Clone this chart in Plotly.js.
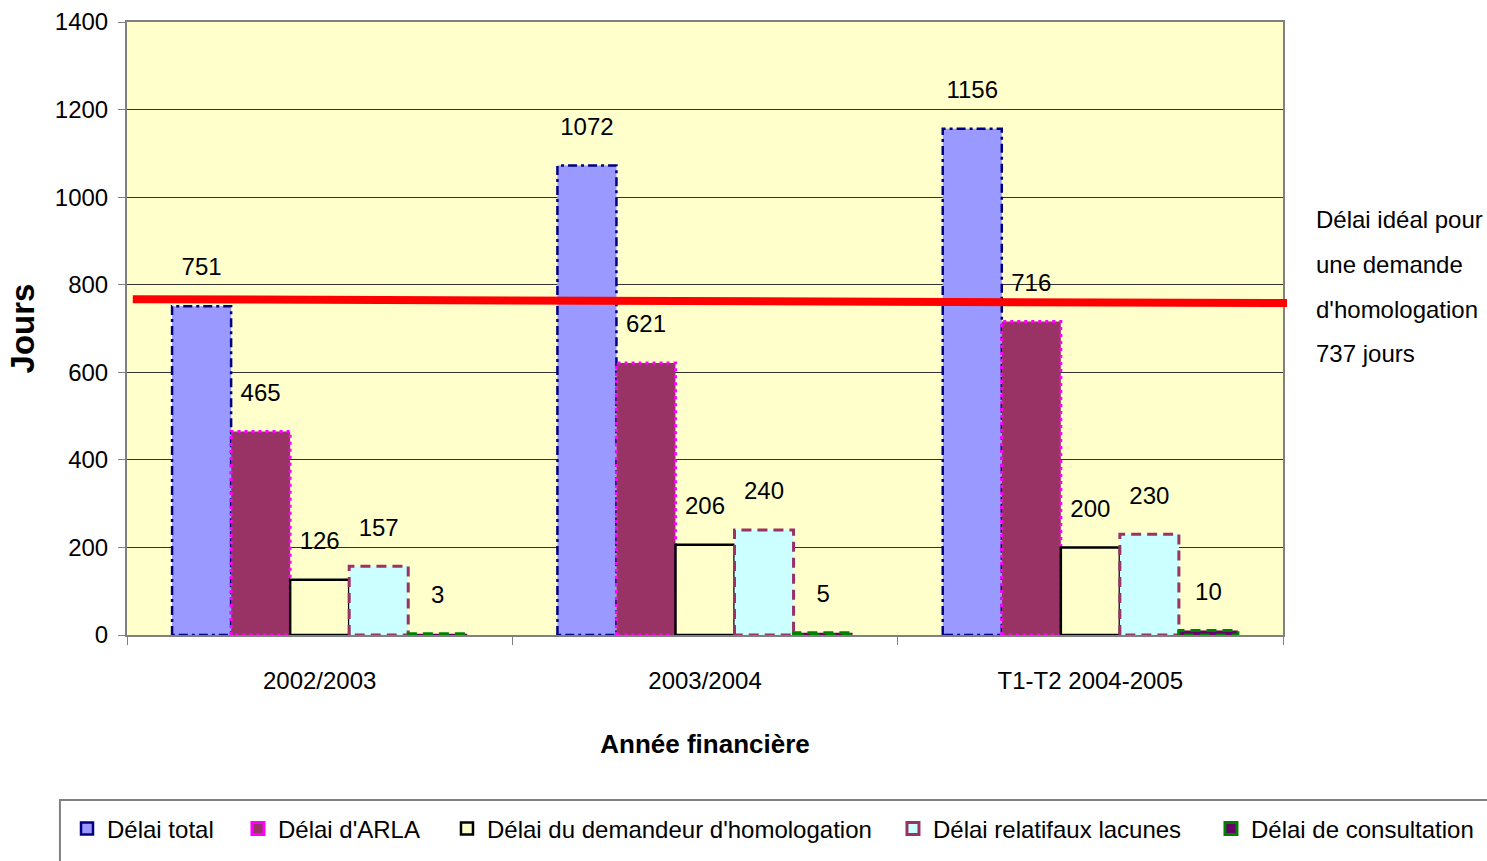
<!DOCTYPE html>
<html>
<head>
<meta charset="utf-8">
<script src="https://cdn.plot.ly/plotly-3.0.1.min.js"></script>
<style>
  html, body { margin: 0; padding: 0; background: #ffffff; }
  #chart { width: 1487px; height: 861px; }
  .barlayer .trace:nth-of-type(1) path { stroke-dasharray: 9 4 3 4; }
  .barlayer .trace:nth-of-type(2) path { stroke-dasharray: 3 4; }
  .barlayer .trace:nth-of-type(4) path { stroke-dasharray: 10 6; }
  .barlayer .trace:nth-of-type(5) path { stroke-dasharray: 10 6; }
</style>
</head>
<body>
<div id="chart"></div>
<script>
// ---- data ----
const categories = ['2002/2003', '2003/2004', 'T1-T2 2004-2005'];
const seriesNames = ['Délai total', "Délai d'ARLA", "Délai du demandeur d'homologation", 'Délai relatifaux lacunes', 'Délai de consultation'];
const delaiTotal = [751, 1072, 1156];
const delaiARLA = [465, 621, 716];
const delaiDemandeur = [126, 206, 200];
const delaiLacunes = [157, 240, 230];
const delaiConsultation = [3, 5, 10];
const yTickValues = [0, 200, 400, 600, 800, 1000, 1200, 1400];
const idealNoteLines = ['Délai idéal pour', 'une demande', "d'homologation", '737 jours'];
const idealLineLevel = [767, 758]; // red reference line as drawn (left, right)

// ---- styles ----
const SANS = "'Liberation Sans', Arial, sans-serif";
const FS = 24;
const fillColors = ['#9999FF', '#993366', '#FFFFCC', '#CCFFFF', '#660066'];
const lineColors = ['#000080', '#FF00FF', '#000000', '#993366', '#008000'];
const lineWidths = [2.5, 3, 2.5, 3, 3];
const seriesValues = [delaiTotal, delaiARLA, delaiDemandeur, delaiLacunes, delaiConsultation];
const legendIds = ['legend', 'legend2', 'legend3', 'legend4', 'legend5'];
const legendX = [-0.0519, 0.0960, 0.2768, 0.6626, 0.9377];
const GAP = 0.234;

const traces = [];
seriesValues.forEach((vals, i) => {
  traces.push({
    type: 'bar',
    name: seriesNames[i],
    x: categories,
    y: vals,
    offsetgroup: String(i),
    legend: legendIds[i],
    marker: { color: fillColors[i], line: { color: lineColors[i], width: lineWidths[i] } },
    hoverinfo: 'skip'
  });
});
seriesValues.forEach((vals, i) => {
  traces.push({
    type: 'scatter',
    mode: 'markers+text',
    x: categories,
    y: vals,
    text: vals.map(String),
    textposition: 'top center',
    textfont: { family: SANS, size: FS, color: '#000000' },
    marker: { size: 38, color: 'rgba(0,0,0,0)' },
    offsetgroup: String(i),
    showlegend: false,
    cliponaxis: false,
    hoverinfo: 'skip'
  });
});

const annotations = idealNoteLines.map((t, k) => ({
  text: t,
  xref: 'paper', yref: 'paper',
  x: 1.0268, y: 0.677 - k * 0.0726,
  xanchor: 'left', yanchor: 'middle',
  showarrow: false,
  font: { family: SANS, size: FS, color: '#000000' }
}));

const layout = {
  width: 1487, height: 861,
  margin: { l: 127, r: 204, t: 22, b: 226, autoexpand: false },
  paper_bgcolor: '#ffffff',
  plot_bgcolor: '#FFFFCC',
  barmode: 'group',
  bargap: GAP,
  bargroupgap: 0,
  scattermode: 'group',
  scattergap: GAP,
  showlegend: true,
  font: { family: SANS, size: FS, color: '#000000' },
  xaxis: {
    type: 'category',
    showline: true, linecolor: '#808080', linewidth: 2, mirror: true,
    ticks: 'outside', tickson: 'boundaries', ticklen: 8, tickcolor: '#808080',
    tickfont: { family: SANS, size: FS, color: '#000000' },
    ticklabelstandoff: 23,
    showgrid: false,
    title: { text: 'Année financière', font: { family: SANS, size: 26, color: '#000000', weight: 'bold' }, standoff: 42 },
    automargin: false
  },
  yaxis: {
    range: [0, 1400],
    tickvals: yTickValues,
    ticktext: yTickValues.map(String),
    showline: true, linecolor: '#808080', linewidth: 2, mirror: true,
    ticks: 'outside', ticklen: 7, tickcolor: '#808080',
    tickfont: { family: SANS, size: FS, color: '#000000' },
    ticklabelstandoff: 5,
    showgrid: true, gridcolor: '#333333', gridwidth: 1,
    zeroline: false,
    title: { text: 'Jours', font: { family: SANS, size: 33, color: '#000000', weight: 'bold' }, standoff: 10 },
    automargin: false
  },
  shapes: [
    {
      type: 'line', xref: 'paper', yref: 'y',
      x0: 0.005, x1: 1.0035,
      y0: idealLineLevel[0], y1: idealLineLevel[1],
      line: { color: '#FF0000', width: 8 },
      layer: 'above'
    },
    {
      type: 'rect', xref: 'paper', yref: 'paper',
      x0: -0.058, x1: 1.2, y0: -0.2692, y1: -0.40,
      line: { color: '#808080', width: 2 },
      fillcolor: 'rgba(0,0,0,0)',
      layer: 'below'
    }
  ],
  annotations: annotations
};

legendIds.forEach((id, i) => {
  layout[id] = {
    orientation: 'h',
    x: legendX[i], xanchor: 'left',
    y: -0.3165, yanchor: 'middle',
    bgcolor: 'rgba(0,0,0,0)',
    borderwidth: 0,
    font: { family: SANS, size: FS, color: '#000000' }
  };
});

Plotly.newPlot('chart', traces, layout, { displayModeBar: false, staticPlot: true });
</script>
</body>
</html>
